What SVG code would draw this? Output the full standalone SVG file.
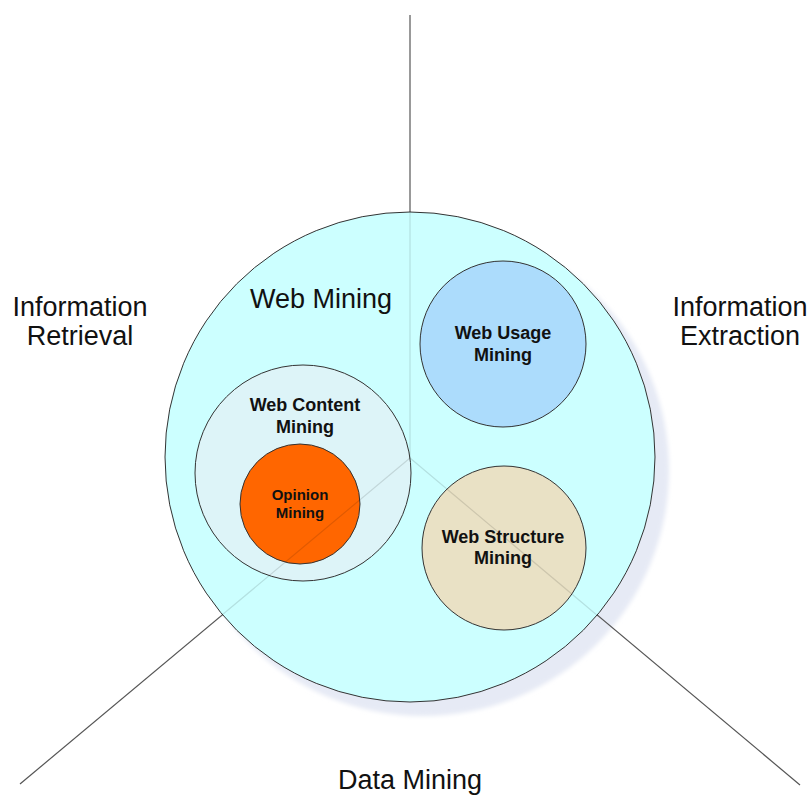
<svg xmlns="http://www.w3.org/2000/svg" width="809" height="796" viewBox="0 0 809 796">
  <style>
    .ray { stroke: #555; stroke-width: 1.2; fill: none; }
    .ray-in { stroke: #000; stroke-opacity: 0.12; stroke-width: 1.2; fill: none; }
    .ring { stroke: #333; stroke-width: 1; }
    .area { font-family: "Liberation Sans", Arial, sans-serif; font-size: 27px; fill: #111; text-anchor: middle; }
    .label { font-family: "Liberation Sans", Arial, sans-serif; font-weight: bold; font-size: 18px; fill: #111; text-anchor: middle; }
    .small { font-size: 15px; }
  </style>
  <defs>
    <filter id="soft" x="-10%" y="-10%" width="120%" height="120%">
      <feGaussianBlur stdDeviation="2"/>
    </filter>
  </defs>
  <rect width="809" height="796" fill="#fff"/>

  <!-- drop shadow of the main circle -->
  <circle id="web-mining-shadow" cx="423" cy="470" r="246" fill="#e6eaf5" filter="url(#soft)"/>

  <!-- three field rays meeting at the centre -->
  <g id="connectors">
    <line class="ray" x1="410" y1="15" x2="410" y2="458"/>
    <line class="ray" x1="410" y1="458" x2="20" y2="784"/>
    <line class="ray" x1="410" y1="458" x2="800" y2="785"/>
  </g>

  <!-- outer field labels -->
  <g id="information-retrieval">
    <text class="area" x="80" y="316">Information</text>
    <text class="area" x="80" y="345">Retrieval</text>
  </g>
  <g id="information-extraction">
    <text class="area" x="740" y="316">Information</text>
    <text class="area" x="740" y="345">Extraction</text>
  </g>
  <g id="data-mining">
    <text class="area" x="410" y="789">Data Mining</text>
  </g>

  <!-- main web mining circle -->
  <g id="web-mining">
    <circle class="ring" cx="410" cy="457" r="245" fill="#ccffff"/>
    <text class="area" x="321" y="308">Web Mining</text>
  </g>

  <g id="web-usage-mining">
    <circle class="ring" cx="503" cy="344" r="83" fill="#acdcfc"/>
    <text class="label" x="503" y="339">Web Usage</text>
    <text class="label" x="503" y="361">Mining</text>
  </g>

  <g id="web-content-mining">
    <circle class="ring" cx="303" cy="473" r="108" fill="#ddf4f8"/>
    <text class="label" x="305" y="411">Web Content</text>
    <text class="label" x="305" y="433">Mining</text>
  </g>

  <g id="opinion-mining">
    <circle class="ring" cx="300" cy="504" r="60" fill="#ff6600"/>
    <text class="label small" x="300" y="500">Opinion</text>
    <text class="label small" x="300" y="518">Mining</text>
  </g>

  <g id="web-structure-mining">
    <circle class="ring" cx="504" cy="548" r="82" fill="#e9e1c5"/>
    <text class="label" x="503" y="543">Web Structure</text>
    <text class="label" x="503" y="564">Mining</text>
  </g>

  <!-- rays showing faintly through the circles -->
  <g id="connectors-inner">
    <line class="ray-in" x1="410" y1="212" x2="410" y2="458"/>
    <line class="ray-in" x1="410" y1="458" x2="222" y2="615"/>
    <line class="ray-in" x1="410" y1="458" x2="598" y2="616"/>
  </g>
</svg>
